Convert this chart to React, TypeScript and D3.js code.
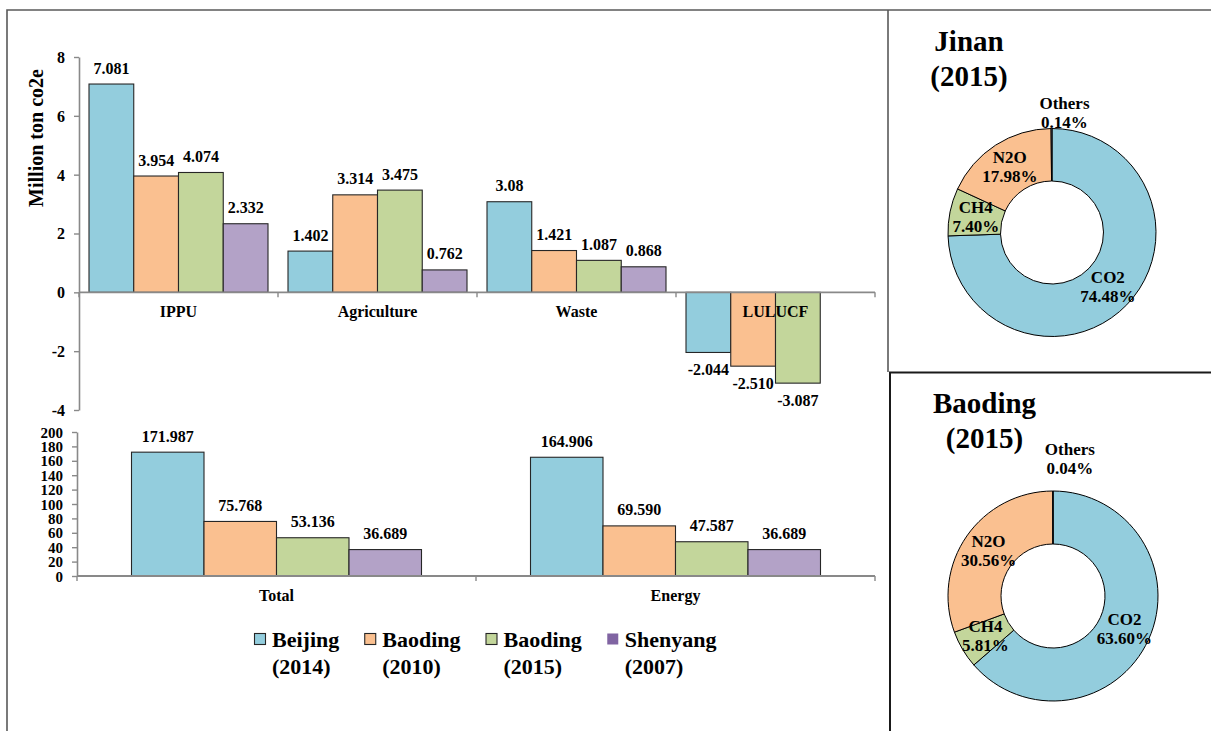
import React, { useEffect, useRef } from "react";
import * as d3 from "d3";

// Series (city / inventory year)
const seriesNames = ["Beijing", "Baoding", "Baoding", "Shenyang"];
const seriesYears = ["(2014)", "(2010)", "(2015)", "(2007)"];
const seriesColors = ["#93CDDD", "#FAC090", "#C3D69B", "#B3A2C7"];
const legendSwatchColors = ["#93CDDD", "#FAC090", "#C3D69B", "#8064A2"];

// Sector emissions, million ton CO2e
const sectorCategories = ["IPPU", "Agriculture", "Waste", "LULUCF"];
const beijingSectors = ["7.081", "1.402", "3.08", "-2.044"];
const baoding2010Sectors = ["3.954", "3.314", "1.421", "-2.510"];
const baoding2015Sectors = ["4.074", "3.475", "1.087", "-3.087"];
const shenyangSectors = ["2.332", "0.762", "0.868", null];
const sectorTicks = [-4, -2, 0, 2, 4, 6, 8];

// Total and energy emissions, million ton CO2e
const totalCategories = ["Total", "Energy"];
const beijingTotals = ["171.987", "164.906"];
const baoding2010Totals = ["75.768", "69.590"];
const baoding2015Totals = ["53.136", "47.587"];
const shenyangTotals = ["36.689", "36.689"];
const totalTicks = [0, 20, 40, 60, 80, 100, 120, 140, 160, 180, 200];

// Gas composition (%)
const gases = ["CO2", "CH4", "N2O", "Others"];
const gasColors = ["#93CDDD", "#C3D69B", "#FAC090", "#B3A2C7"];
const jinanShares = ["74.48", "7.40", "17.98", "0.14"];
const baodingShares = ["63.60", "5.81", "30.56", "0.04"];

const FONT = "'Liberation Serif', 'Times New Roman', serif";
const AXIS = "#898989";

type Sel = d3.Selection<SVGGElement, unknown, null, undefined>;

function drawGrouped(
  g: Sel,
  categories: string[],
  values: (string | null)[][],
  x: d3.ScaleBand<string>,
  y: d3.ScaleLinear<number, number>,
  ticks: number[],
  innerGap: number,
  tickFont: number
) {
  const inner = d3
    .scaleBand<string>()
    .domain(values.map((_, i) => String(i)))
    .range([innerGap, x.bandwidth() - innerGap]);
  const y0 = y(0);
  const [r0, r1] = x.range();

  categories.forEach((cat, ci) => {
    values.forEach((vals, si) => {
      const raw = vals[ci];
      if (raw === null) return;
      const v = +raw;
      const bx = (x(cat) as number) + (inner(String(si)) as number);
      g.append("rect")
        .attr("x", bx)
        .attr("y", Math.min(y(v), y0))
        .attr("width", inner.bandwidth())
        .attr("height", Math.abs(y(v) - y0))
        .attr("fill", seriesColors[si])
        .attr("stroke", "#262626")
        .attr("stroke-width", 1.1);
    });
  });

  // y axis
  const ax = g
    .append("g")
    .attr("transform", `translate(${r0},0)`)
    .call(
      d3
        .axisLeft(y)
        .tickValues(ticks)
        .tickSize(5)
        .tickSizeOuter(0)
        .tickPadding(9)
        .tickFormat((d) => String(d))
    );
  ax.select(".domain").attr("stroke", AXIS).attr("stroke-width", 1.6);
  ax.selectAll(".tick line").attr("stroke", AXIS).attr("stroke-width", 1.4);
  ax.selectAll(".tick text")
    .attr("fill", "#000")
    .attr("font-family", FONT)
    .attr("font-weight", "bold")
    .attr("font-size", tickFont)
    .attr("dy", "0.34em");

  // x axis line with boundary ticks
  g.append("line")
    .attr("x1", r0)
    .attr("x2", r1)
    .attr("y1", y0)
    .attr("y2", y0)
    .attr("stroke", AXIS)
    .attr("stroke-width", 1.8);
  const bounds = categories.map((c) => x(c) as number).concat([r1]);
  bounds.forEach((bx) => {
    g.append("line")
      .attr("x1", bx)
      .attr("x2", bx)
      .attr("y1", y0)
      .attr("y2", y0 + 5)
      .attr("stroke", AXIS)
      .attr("stroke-width", 1.4);
  });

  // category labels
  categories.forEach((cat) => {
    g.append("text")
      .attr("x", (x(cat) as number) + x.bandwidth() / 2)
      .attr("y", y0 + 25)
      .attr("text-anchor", "middle")
      .attr("font-family", FONT)
      .attr("font-weight", "bold")
      .attr("font-size", 16)
      .text(cat);
  });

  // value labels
  categories.forEach((cat, ci) => {
    values.forEach((vals, si) => {
      const raw = vals[ci];
      if (raw === null) return;
      const v = +raw;
      const cx = (x(cat) as number) + (inner(String(si)) as number) + inner.bandwidth() / 2;
      g.append("text")
        .attr("x", cx)
        .attr("y", v >= 0 ? y(v) - 10.5 : y(v) + 23)
        .attr("text-anchor", "middle")
        .attr("font-family", FONT)
        .attr("font-weight", "bold")
        .attr("font-size", 16)
        .text(raw);
    });
  });
}

function drawDonut(
  g: Sel,
  title: string,
  shares: string[],
  cx: number,
  cy: number,
  rIn: number,
  rOut: number,
  titleX: number,
  titleY: number,
  othersLift: number,
  othersShift: number
) {
  const titleLines = [title, "(2015)"];
  titleLines.forEach((t, i) => {
    g.append("text")
      .attr("x", titleX)
      .attr("y", titleY + i * 35)
      .attr("text-anchor", "middle")
      .attr("font-family", FONT)
      .attr("font-weight", "bold")
      .attr("font-size", 29)
      .text(t);
  });

  const pie = d3
    .pie<string>()
    .sort(null)
    .value((d) => +d);
  const arcs = pie(shares);
  const arc = d3.arc<d3.PieArcDatum<string>>().innerRadius(rIn).outerRadius(rOut);
  const pg = g.append("g").attr("transform", `translate(${cx},${cy})`);
  pg.selectAll("path")
    .data(arcs)
    .join("path")
    .attr("d", arc)
    .attr("fill", (_, i) => gasColors[i])
    .attr("stroke", "#000")
    .attr("stroke-width", 1);

  arcs.forEach((a, i) => {
    let [lx, ly] = arc.centroid(a);
    if (gases[i] === "Others") {
      const mid = (a.startAngle + a.endAngle) / 2;
      const r = rOut + othersLift;
      lx = r * Math.sin(mid) + othersShift;
      ly = -r * Math.cos(mid);
    }
    const lines = [gases[i], `${shares[i]}%`];
    lines.forEach((t, j) => {
      pg.append("text")
        .attr("x", lx)
        .attr("y", ly - 4 + j * 19)
        .attr("text-anchor", "middle")
        .attr("font-family", FONT)
        .attr("font-weight", "bold")
        .attr("font-size", 17)
        .text(t);
    });
  });
}

export default function App() {
  const ref = useRef<SVGSVGElement | null>(null);

  useEffect(() => {
    const svg = d3.select(ref.current as SVGSVGElement);
    svg.selectAll("*").remove();
    const root = svg.append("g") as unknown as Sel;

    // panel frames
    root.append("path")
      .attr("d", "M7,731V10H1211")
      .attr("fill", "none")
      .attr("stroke", "#595959")
      .attr("stroke-width", 1.6);
    root.append("line")
      .attr("x1", 888).attr("x2", 888).attr("y1", 10).attr("y2", 372)
      .attr("stroke", "#595959").attr("stroke-width", 1.6);
    root.append("path")
      .attr("d", "M1211,372.5H890V731")
      .attr("fill", "none")
      .attr("stroke", "#1a1a1a")
      .attr("stroke-width", 2);

    // sector chart
    const sectorValues = [beijingSectors, baoding2010Sectors, baoding2015Sectors, shenyangSectors];
    const xTop = d3.scaleBand<string>().domain(sectorCategories).range([79, 875]);
    const yTop = d3.scaleLinear().domain([-4, 8]).range([410, 57]);
    drawGrouped(root.append("g") as unknown as Sel, sectorCategories, sectorValues, xTop, yTop, sectorTicks, 10, 16);

    root.append("text")
      .attr("transform", "translate(43,138) rotate(-90)")
      .attr("text-anchor", "middle")
      .attr("font-family", FONT)
      .attr("font-weight", "bold")
      .attr("font-size", 20)
      .text("Million ton co2e");

    // total / energy chart
    const totalValues = [beijingTotals, baoding2010Totals, baoding2015Totals, shenyangTotals];
    const xBot = d3.scaleBand<string>().domain(totalCategories).range([77, 875]);
    const yBot = d3.scaleLinear().domain([0, 200]).range([576, 432]);
    drawGrouped(root.append("g") as unknown as Sel, totalCategories, totalValues, xBot, yBot, totalTicks, 54.5, 15);

    // legend
    const lg = root.append("g");
    let lx = 254;
    seriesNames.forEach((name, i) => {
      lg.append("rect")
        .attr("x", lx + 0.5)
        .attr("y", 633.5)
        .attr("width", 11)
        .attr("height", 11)
        .attr("fill", legendSwatchColors[i])
        .attr("stroke", i === 3 ? "none" : "#262626")
        .attr("stroke-width", 1.1);
      const tx = lx + 18;
      const t1 = lg.append("text")
        .attr("x", tx)
        .attr("y", 647)
        .attr("font-family", FONT)
        .attr("font-weight", "bold")
        .attr("font-size", 22)
        .text(name);
      const t2 = lg.append("text")
        .attr("x", tx)
        .attr("y", 674)
        .attr("font-family", FONT)
        .attr("font-weight", "bold")
        .attr("font-size", 22)
        .text(seriesYears[i]);
      const w = Math.max(
        (t1.node() as SVGTextElement).getComputedTextLength(),
        (t2.node() as SVGTextElement).getComputedTextLength()
      );
      lx = tx + w + 25;
    });

    // donuts
    drawDonut(root.append("g") as unknown as Sel, "Jinan", jinanShares, 1052, 232.5, 51.5, 104, 969, 51, 16, 13);
    drawDonut(root.append("g") as unknown as Sel, "Baoding", baodingShares, 1053, 596, 52, 105, 984.5, 413, 32, 17);
  }, []);

  return (
    <svg
      ref={ref}
      width={1211}
      height={731}
      style={{ position: "absolute", left: 0, top: 0, background: "#fff" }}
    />
  );
}
